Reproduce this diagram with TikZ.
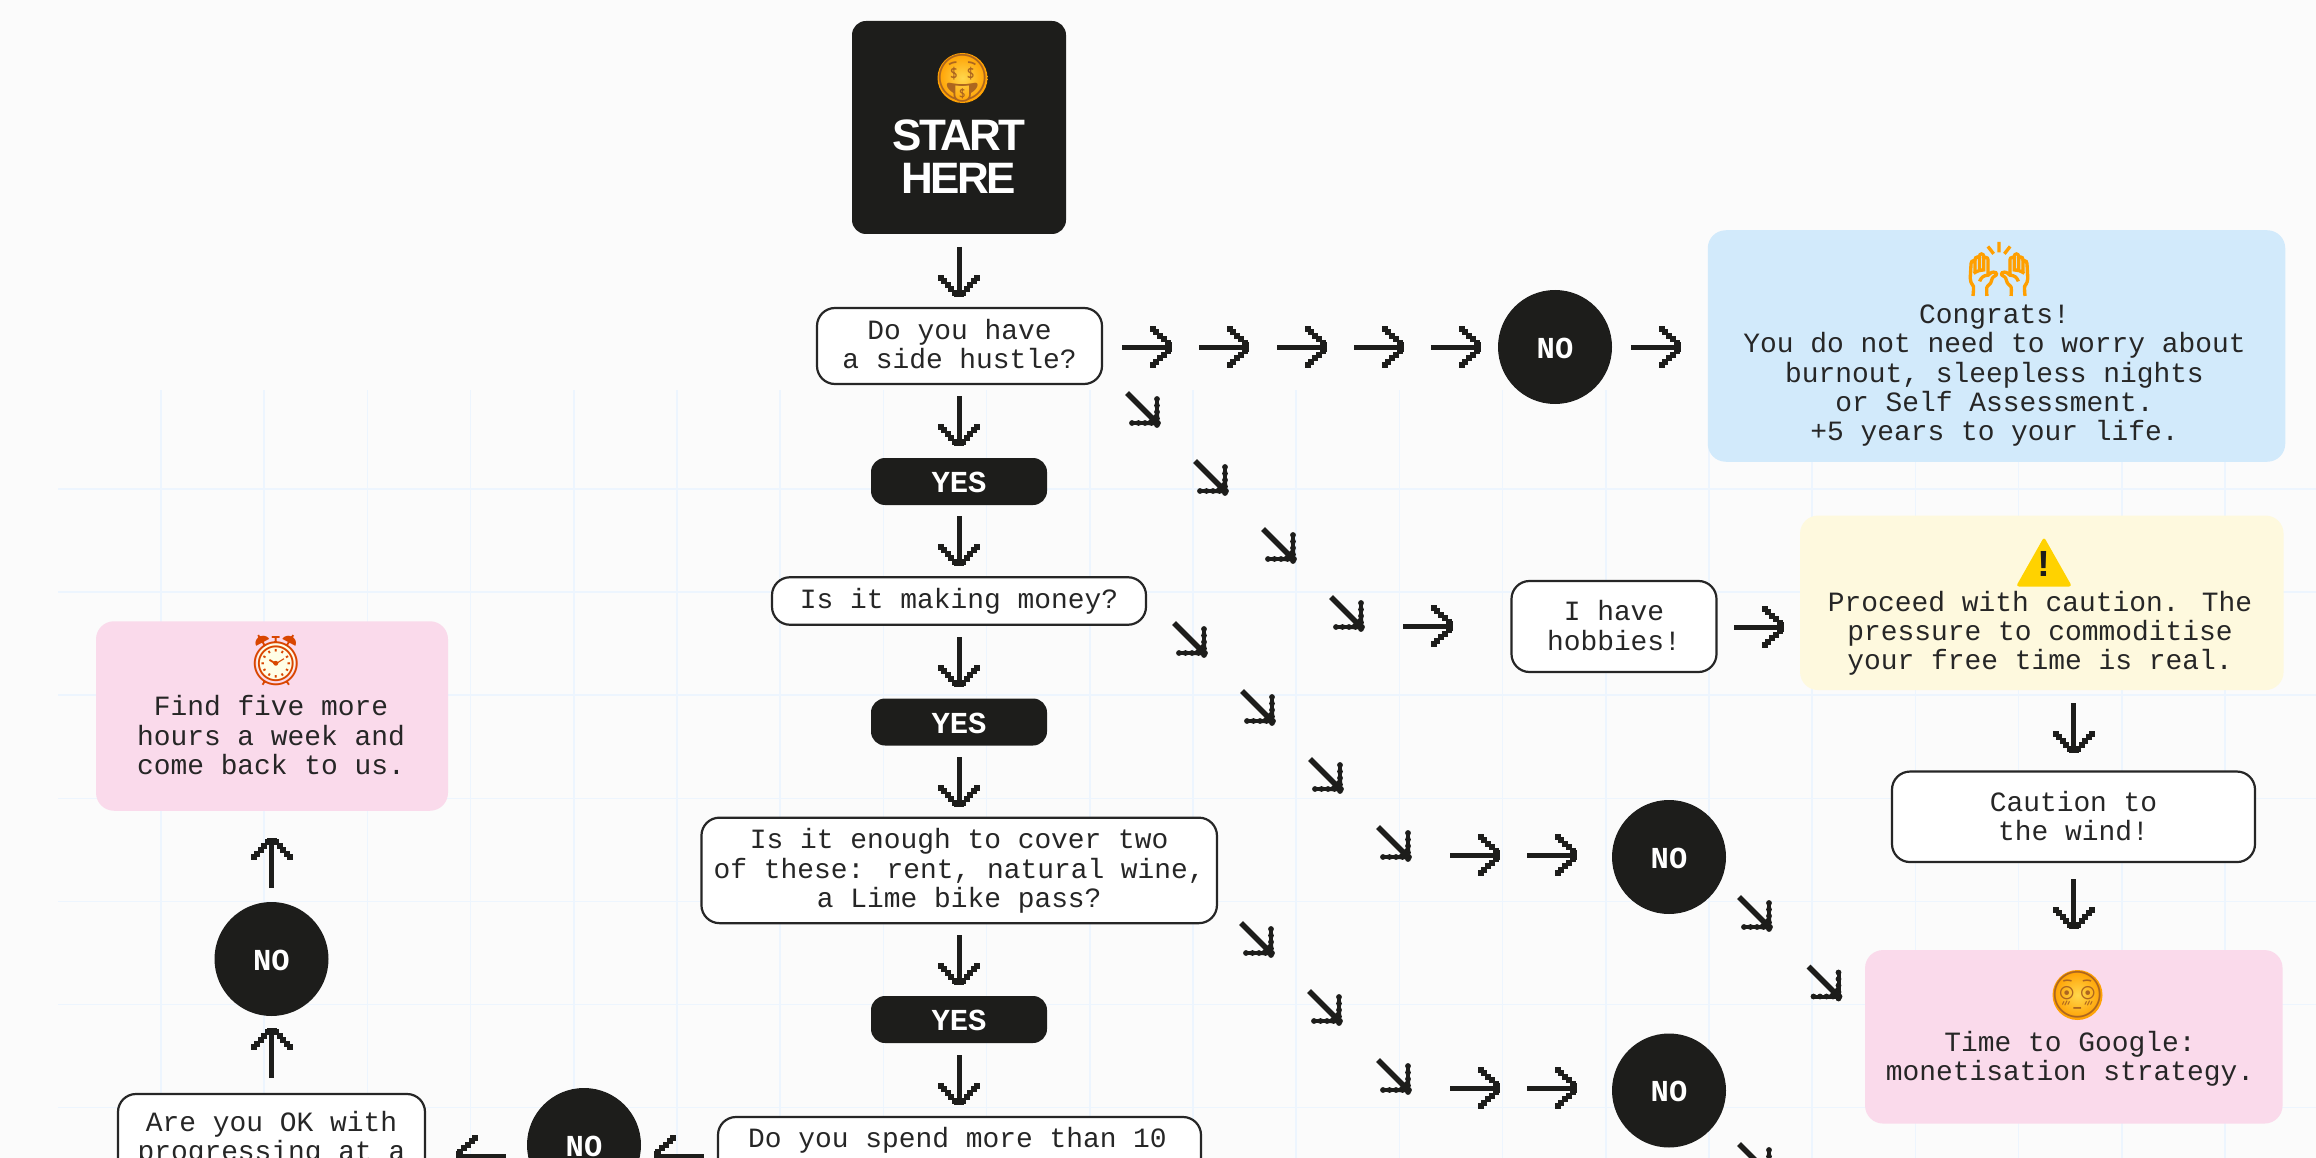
\documentclass[tikz,border=0pt]{standalone}
\usepackage{fontspec}
\setmainfont{Liberation Mono}
\newfontfamily\emojifont{Noto Emoji}
\newfontfamily\emojibold[FakeBold=2.5]{Noto Emoji}
\newfontfamily\startfont[LetterSpace=-6]{Liberation Sans}
\definecolor{ink}{HTML}{1D1D1B}
\definecolor{txt}{HTML}{262626}
\definecolor{paper}{HTML}{FBFBFB}
\definecolor{gridc}{HTML}{EDF5FE}
\definecolor{skyb}{HTML}{D2EAFB}
\definecolor{pinkb}{HTML}{FADAEB}
\definecolor{yellb}{HTML}{FEF9DE}
\newcommand\st{\vrule height 21pt depth 5pt width 0pt\relax}
\newcommand\pxarrow[4]{%
\begin{scope}[shift={(#2,#3)},rotate=#4]
\coordinate (#1s) at (0,0);
\coordinate (#1e) at (49,0);
\draw[arrowshaft] (#1s) -- (#1e);
\fill[ink] (43,-5) rectangle (50,5);
\foreach \a/\b in {46/4,42/8,38/11,34/15,31/18}{
\fill[ink] (\a-3,\b-3) rectangle ++(6,6);
\fill[ink] (\a-3,-\b-3) rectangle ++(6,6);}
\end{scope}}
\newcommand\pxdiag[3]{%
\begin{scope}[shift={(#2,#3)}]
\coordinate (#1s) at (3,3);
\coordinate (#1e) at (31,31);
\draw[arrowshaft,line width=5.5pt] (#1s) -- (#1e);
\fill[ink] (35,35) -- (35,20) -- (20,35) -- cycle;
\fill[ink] (31,9) rectangle (35,35);
\fill[ink] (8,31) rectangle (35,35);
\foreach \t in {9,15.5,22,28.5,35}{
\fill[ink] (33,\t) circle (2.9);
\fill[ink] (\t-1,33) circle (2.9);}
\end{scope}}
\tikzset{
 arrowshaft/.style={draw=ink,line width=5pt,line cap=butt},
 gridline/.style={draw=gridc,line width=1.6pt},
 body/.style={inner sep=0pt,outer sep=0pt,align=center,text=txt,font=\fontsize{27.9}{29.2}\selectfont},
 whitebox/.style={body,draw=txt,fill=white,line width=2.2pt,rounded corners=18pt,rectangle},
 colorbox/.style={inner sep=0pt,outer sep=0pt,rectangle,rounded corners=18pt},
 nocircle/.style={circle,fill=ink,inner sep=0pt,outer sep=0pt,minimum size=114pt,text=white,font=\fontsize{30.5}{31}\selectfont\bfseries},
 yespill/.style={rectangle,rounded corners=14pt,fill=ink,inner sep=0pt,outer sep=0pt,minimum width=176pt,minimum height=47pt,text=white,font=\fontsize{30.5}{31}\selectfont\bfseries},
 emoji/.style={inner sep=0pt,outer sep=0pt,font=\fontsize{#1}{#1}\emojifont},
 facedisc/.style={circle,inner sep=0pt,outer sep=0pt,minimum size=#1,inner color=yellow!55!orange!70,outer color=orange!75!yellow},
}
\begin{document}
\begin{tikzpicture}[x=1pt,y=-1pt]
\useasboundingbox (0,0) rectangle (2316,1158);
\clip (0,0) rectangle (2316,1158);
\fill[paper] (0,0) rectangle (2316,1158);
% grid
\foreach \k in {0,...,20}{\draw[gridline] ({161+103.2*\k},390) -- ({161+103.2*\k},1158);}
\foreach \k in {0,...,6}{\draw[gridline] (58,{489+103.1*\k}) -- (2316,{489+103.1*\k});}
% start
\node[rectangle,rounded corners=14pt,fill=ink,inner sep=0pt,outer sep=0pt,minimum width=214pt,minimum height=213pt] (start) at (959,127.5) {};
\node[facedisc=50pt] (moneydisc) at (962.5,78) {};
\node[emoji=46,text=brown!60!orange!80!black] (money) at (962.5,78) {^^^^^^01f911};
\node[inner sep=0pt,align=center,text=white,font=\fontsize{44}{43.5}\startfont\bfseries] (starttext) at (959,156.2) {\vrule height 32pt width 0pt\relax START\\HERE};
% question column
\node[whitebox,minimum width=285pt,minimum height=76pt] (q1) at (959.5,346) {\st Do you have\\a side hustle?\st};
\node[yespill] (y1) at (959,481.5) {\vrule height 23pt width 0pt\relax YES};
\node[whitebox,minimum width=374pt,minimum height=47.5pt] (q2) at (959,601) {\st Is it making money?\st};
\node[yespill] (y2) at (959,722) {\vrule height 23pt width 0pt\relax YES};
\node[whitebox,minimum width=515.5pt,minimum height=105.5pt] (q3) at (959.2,870.4) {\st Is it enough to cover two\\of these: rent, natural wine,\\a Lime bike pass?\st};
\node[yespill] (y3) at (959,1019.5) {\vrule height 23pt width 0pt\relax YES};
\node[whitebox,minimum width=483pt,minimum height=133pt] (q4) at (959.5,1183.5) {};
\node[body] (q4t) at (957.5,1140) {\st Do you spend more than 10\st};
% no circles
\node[nocircle] (n1) at (1555,347) {\vrule height 23pt width 0pt\relax NO};
\node[nocircle] (n2) at (1669,857) {\vrule height 23pt width 0pt\relax NO};
\node[nocircle] (n3) at (1669,1090.5) {\vrule height 23pt width 0pt\relax NO};
\node[nocircle] (n4) at (584,1145) {\vrule height 23pt width 0pt\relax NO};
\node[nocircle] (n5) at (271.5,959) {\vrule height 23pt width 0pt\relax NO};
% left branch
\node[whitebox,minimum width=307pt,minimum height=156pt] (q5) at (271.5,1172) {};
\node[body] (q5t) at (271.5,1138.3) {\st Are you OK with\\progressing at a\st};
\node[colorbox,fill=pinkb,minimum width=352pt,minimum height=189.5pt] (find) at (272,716) {};
\node[circle,fill=white!90!yellow,inner sep=0pt,minimum size=38pt] (clockface) at (276,662) {};
\node[emoji=50,text=orange!65!red!85!black] (clock) at (276,660) {^^^^23f0};
\node[body] (findt) at (271,737) {\st Find five more\\hours a week and\\come back to us.\st};
% right boxes
\node[colorbox,fill=skyb,minimum width=577.5pt,minimum height=231.5pt] (congr) at (1996.5,346) {};
\node[inner sep=0pt,outer sep=0pt,text=orange!75!yellow,font=\fontsize{52}{52}\emojibold] (hands) at (1999,269) {^^^^^^01f64c};
\node[body] (congrt) at (1994.5,374.4) {\st Congrats!\\You do not need to worry about\\burnout, sleepless nights\\or Self Assessment.\\+5 years to your life.\st};
\node[whitebox,minimum width=205pt,minimum height=91pt] (hob) at (1614,626.5) {\vrule height 23pt depth 0pt width 0pt\relax I have\\hobbies!\vrule height 10pt depth 5pt width 0pt\relax};
\node[colorbox,fill=yellb,minimum width=483.5pt,minimum height=174.5pt] (caut) at (2041.8,602.8) {};
\fill[orange!35!yellow,rounded corners=3pt] (2044,537) -- (2072,586.5) -- (2016,586.5) -- cycle;
\node[inner sep=0pt,text=ink,font=\fontsize{38}{38}\selectfont\bfseries] (warn) at (2044,564) {!};
\node[body] (cautt) at (2040,633) {\st Proceed with caution. The\\pressure to commoditise\\your free time is real.\st};
\node[whitebox,minimum width=363pt,minimum height=90.5pt] (wind) at (2073.5,816.8) {\vrule height 24pt depth 5pt width 0pt\relax Caution to\\the wind!\vrule height 24pt depth 5pt width 0pt\relax};
\node[colorbox,fill=pinkb,minimum width=417.5pt,minimum height=173.5pt] (goog) at (2073.8,1036.8) {};
\node[facedisc=50pt] (flushdisc) at (2077.5,995) {};
\node[emoji=46,text=brown!60!orange!80!black] (flush) at (2077.5,995) {^^^^^^01f633};
\node[body] (googt) at (2070,1058.6) {\st Time to Google:\\monetisation strategy.\st};
% arrows
\pxarrow{a1}{959}{247}{-90}
\pxarrow{a2}{959}{396}{-90}
\pxarrow{a3}{959}{516}{-90}
\pxarrow{a4}{959}{637}{-90}
\pxarrow{a5}{959}{757}{-90}
\pxarrow{a6}{959}{935}{-90}
\pxarrow{a7}{959}{1055}{-90}
\pxarrow{b1}{1122}{347}{0}
\pxarrow{b2}{1199}{347}{0}
\pxarrow{b3}{1277}{347}{0}
\pxarrow{b4}{1354}{347}{0}
\pxarrow{b5}{1431}{347}{0}
\pxarrow{b6}{1631}{347}{0}
\pxarrow{c1}{1403}{626}{0}
\pxarrow{c2}{1734}{627}{0}
\pxarrow{c3}{1450}{855}{0}
\pxarrow{c4}{1527}{855}{0}
\pxarrow{c5}{1450}{1088}{0}
\pxarrow{c6}{1527}{1088}{0}
\pxarrow{d1}{2073.5}{703}{-90}
\pxarrow{d2}{2073.5}{879}{-90}
\pxarrow{e1}{704}{1156}{180}
\pxarrow{e2}{506}{1156}{180}
\pxarrow{f1}{271.5}{1078}{90}
\pxarrow{f2}{271.5}{888}{90}
\pxdiag{g1}{1124}{390}
\pxdiag{g2}{1192}{458}
\pxdiag{g3}{1260}{526}
\pxdiag{g4}{1328}{594}
\pxdiag{h1}{1171}{620}
\pxdiag{h2}{1239}{688}
\pxdiag{h3}{1307}{756}
\pxdiag{h4}{1375}{824}
\pxdiag{i1}{1238}{920}
\pxdiag{i2}{1306}{988}
\pxdiag{i3}{1375}{1057}
\pxdiag{j1}{1736}{894}
\pxdiag{j2}{1805.5}{963.5}
\pxdiag{j3}{1736}{1141}
\end{tikzpicture}
\end{document}
